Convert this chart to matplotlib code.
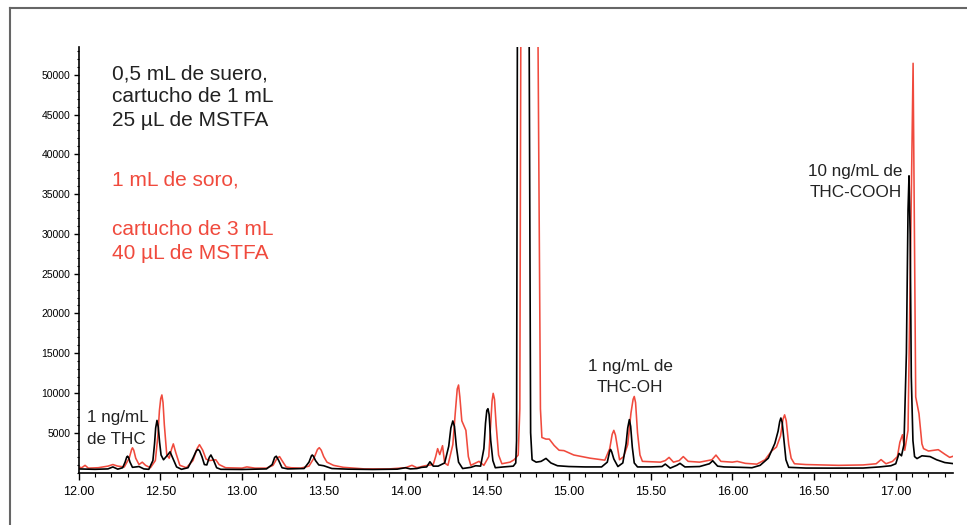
import matplotlib.pyplot as plt
from matplotlib.ticker import MultipleLocator, FixedLocator
from matplotlib.lines import Line2D

plt.rcParams['font.family'] = ['Liberation Sans', 'DejaVu Sans']

black_t = [12.00, 12.10, 12.18, 12.21, 12.24, 12.27, 12.285, 12.295, 12.30, 12.306, 12.315, 12.33,
           12.37, 12.40, 12.43, 12.455, 12.465, 12.472, 12.48, 12.488, 12.496, 12.505, 12.52, 12.545,
           12.56, 12.575, 12.60, 12.63, 12.67, 12.70, 12.72, 12.73, 12.74, 12.755, 12.77, 12.785,
           12.80, 12.81, 12.825, 12.845, 12.87, 13.00, 13.15, 13.185, 13.20, 13.21,
           13.225, 13.245, 13.28, 13.38, 13.41, 13.425, 13.43, 13.437, 13.45, 13.47, 13.50, 13.55,
           13.65, 13.80, 13.95, 14.00, 14.03, 14.07, 14.10, 14.13, 14.15, 14.17,
           14.20, 14.24, 14.265, 14.278, 14.29, 14.30, 14.312, 14.325, 14.35, 14.40, 14.43, 14.46,
           14.48, 14.49, 14.498, 14.505, 14.512, 14.522, 14.535, 14.55, 14.60, 14.66, 14.675, 14.680,
           14.685, 14.72, 14.757, 14.766, 14.775, 14.80, 14.83, 14.86, 14.89, 14.93,
           15.00, 15.10, 15.20, 15.235, 15.25, 15.255, 15.262, 15.275, 15.30, 15.33, 15.35, 15.36,
           15.37, 15.378, 15.388, 15.40, 15.42, 15.50, 15.57, 15.59, 15.62, 15.66, 15.68, 15.71,
           15.80, 15.86, 15.88, 15.91, 15.95, 16.05, 16.12, 16.17, 16.22, 16.26,
           16.28, 16.29, 16.297, 16.305, 16.315, 16.328, 16.345, 16.45, 16.60, 16.80, 16.90, 16.97,
           17.00, 17.02, 17.035, 17.05, 17.065, 17.075, 17.081, 17.088, 17.095, 17.105,
           17.115, 17.13, 17.16, 17.21, 17.25, 17.30, 17.35]
black_i = [450, 400, 450, 700, 420, 600, 1300, 1950, 2050, 1900, 1300, 650,
           750, 450, 400, 1500, 3600, 5600, 6550, 5700, 3800, 2200, 1600, 2200,
           2600, 1900, 700, 400, 600, 1800, 2700, 2900, 2750, 2000, 1000, 950,
           1900, 2200, 1600, 600, 400, 380, 450, 1000, 1900, 2050,
           1500, 600, 450, 500, 1300, 2100, 2200, 2050, 1500, 950, 850, 500,
           420, 380, 420, 600, 450, 500, 650, 700, 1350, 800,
           800, 1200, 3300, 5600, 6480, 5800, 3200, 1300, 500, 650, 850, 800,
           3000, 6200, 7800, 8020, 7300, 4000, 1500, 600, 700, 800, 1200, 4000,
           55000, 150000, 55000, 5000, 1600, 1300, 1400, 1770, 1200, 850,
           750, 700, 700, 1300, 2700, 2900, 2600, 1700, 750, 1200, 3600, 5600,
           6650, 5800, 3200, 1200, 700, 700, 750, 1060, 550, 900, 1150, 700,
           750, 1100, 1480, 800, 700, 650, 600, 900, 1800, 3650,
           5200, 6400, 6850, 6300, 4300, 1600, 650, 560, 550, 560, 700, 850,
           1100, 2400, 2100, 3500, 15000, 33000, 37300, 30000, 12000, 4000,
           2000, 1750, 2100, 2000, 1600, 1250, 1120]

# plasma / soro (rojo)
red_t = [12.00, 12.02, 12.04, 12.06, 12.12, 12.18, 12.21, 12.24, 12.28, 12.31,
         12.325, 12.33, 12.338, 12.35, 12.37, 12.39, 12.41, 12.44, 12.47, 12.485, 12.495, 12.503,
         12.51, 12.517, 12.525, 12.54, 12.555, 12.57, 12.58, 12.595, 12.62, 12.66, 12.70, 12.725,
         12.74, 12.76, 12.78, 12.80, 12.84, 12.86, 12.90, 13.00, 13.03, 13.08, 13.15,
         13.19, 13.215, 13.23, 13.245, 13.27, 13.30, 13.36, 13.41, 13.44, 13.462, 13.473,
         13.485, 13.50, 13.52, 13.56, 13.62, 13.75, 13.90, 14.00, 14.04, 14.07, 14.12,
         14.17, 14.185, 14.197, 14.21, 14.227, 14.24, 14.26, 14.29, 14.305, 14.317, 14.325,
         14.333, 14.345, 14.37, 14.385, 14.40, 14.45, 14.48, 14.51, 14.52, 14.53, 14.537, 14.545,
         14.555, 14.57, 14.59, 14.64, 14.665, 14.69, 14.700, 14.706, 14.76, 14.811, 14.826,
         14.835, 14.86, 14.88, 14.91, 14.94, 14.97, 15.03, 15.13, 15.22, 15.25,
         15.265, 15.275, 15.285, 15.31, 15.335, 15.36, 15.38, 15.393, 15.40, 15.408, 15.42, 15.435,
         15.45, 15.50, 15.56, 15.59, 15.613, 15.64, 15.675, 15.70, 15.73, 15.80, 15.875, 15.90,
         15.93, 16.00, 16.03, 16.08, 16.15, 16.20, 16.24, 16.27, 16.295, 16.31, 16.32,
         16.33, 16.345, 16.36, 16.38, 16.45, 16.55, 16.65, 16.80, 16.88, 16.91, 16.94,
         16.98, 17.01, 17.025, 17.041, 17.055, 17.075, 17.092, 17.106, 17.114, 17.122,
         17.142, 17.16, 17.17, 17.20, 17.26, 17.30, 17.33, 17.35]
red_i = [700, 600, 900, 550, 600, 800, 1000, 800, 700, 1800,
         2900, 3100, 2800, 1800, 1000, 1300, 900, 600, 1500, 4500, 7800, 9300,
         9750, 8800, 6000, 2200, 1800, 3000, 3600, 2500, 900, 600, 1500, 3000,
         3500, 2800, 1700, 1500, 1600, 1000, 600, 550, 700, 550, 550,
         900, 1800, 2000, 1500, 700, 600, 550, 800, 1800, 2900, 3120,
         2800, 2000, 1300, 900, 650, 450, 450, 600, 900, 600, 850,
         1000, 2000, 3000, 2250, 3370, 1200, 900, 3500, 7500, 10500, 11000,
         9500, 6500, 5300, 2000, 900, 1400, 900, 2000, 5500, 9000, 9950, 9200,
         6000, 2200, 1100, 1300, 1600, 2200, 8000, 55000, 150000, 55000, 8000,
         4400, 4200, 4200, 3400, 2800, 2750, 2200, 1800, 1550, 3000,
         4800, 5300, 4700, 1600, 2000, 3500, 7500, 9200, 9560, 8800, 5000, 2200,
         1400, 1350, 1300, 1500, 1900, 1300, 1500, 2000, 1400, 1300, 1600, 2190,
         1400, 1300, 1400, 1150, 1050, 1600, 2700, 3200, 4600, 6700, 7250,
         6500, 3500, 1800, 1100, 1000, 950, 900, 950, 1100, 1620, 1100,
         1400, 2000, 3800, 4750, 2800, 5300, 30000, 51450, 30000, 9500,
         7400, 3600, 3000, 2700, 2870, 2300, 1900, 2040]

ytick_vals = [5000, 10000, 15000, 20000, 25000, 30000, 35000, 40000, 45000, 50000]
xtick_vals = [12.0, 12.5, 13.0, 13.5, 14.0, 14.5, 15.0, 15.5, 16.0, 16.5, 17.0]

RED = '#f04a3d'
TXT = '#222222'

fig = plt.figure(figsize=(9.67, 5.25), dpi=100)
ax = fig.add_axes([0.0812, 0.1, 0.9043, 0.8105])

ax.plot(red_t, red_i, color=RED, lw=1.15, solid_joinstyle='round')
ax.plot(black_t, black_i, color='black', lw=1.2, solid_joinstyle='round')

ax.set_xlim(12.0, 17.35)
ax.set_ylim(0, 53500)

ax.spines['top'].set_visible(False)
ax.spines['right'].set_visible(False)
ax.spines['left'].set_linewidth(1.2)
ax.spines['bottom'].set_linewidth(1.2)

ax.yaxis.set_major_locator(FixedLocator(ytick_vals))
ax.yaxis.set_minor_locator(MultipleLocator(1000))
ax.xaxis.set_major_locator(FixedLocator(xtick_vals))
ax.xaxis.set_minor_locator(MultipleLocator(0.1))
ax.set_xticklabels([f'{v:.2f}' for v in xtick_vals])
ax.tick_params(axis='y', which='major', length=3.5, width=1, labelsize=7.5, pad=2.5)
ax.tick_params(axis='y', which='minor', length=1.8, width=0.8)
ax.tick_params(axis='x', which='major', length=5, width=1, labelsize=9, pad=5)
ax.tick_params(axis='x', which='minor', length=3, width=0.8)

# leyenda escrita a mano
ax.text(12.203, 49375, '0,5 mL de suero,', fontsize=15, color=TXT, va='baseline')
ax.text(12.203, 46540, 'cartucho de 1 mL', fontsize=15, color=TXT, va='baseline')
ax.text(12.203, 43540, '25 µL de MSTFA', fontsize=15, color=TXT, va='baseline')
ax.text(12.203, 36125, '1 mL de soro,', fontsize=15, color=RED, va='baseline')
ax.text(12.203, 29875, 'cartucho de 3 mL', fontsize=15, color=RED, va='baseline')
ax.text(12.203, 26875, '40 µL de MSTFA', fontsize=15, color=RED, va='baseline')

# etiquetas de picos
ax.text(12.05, 6325, '1 ng/mL', fontsize=12.3, color=TXT, va='baseline')
ax.text(12.05, 3625, 'de THC', fontsize=12.3, color=TXT, va='baseline')
ax.text(15.376, 12700, '1 ng/mL de', fontsize=12.3, color=TXT, va='baseline', ha='center')
ax.text(15.376, 10075, 'THC-OH', fontsize=12.3, color=TXT, va='baseline', ha='center')
ax.text(16.754, 37290, '10 ng/mL de', fontsize=12.3, color=TXT, va='baseline', ha='center')
ax.text(16.754, 34660, 'THC-COOH', fontsize=12.3, color=TXT, va='baseline', ha='center')

# marco gris
fig.add_artist(Line2D([0.0103, 0.0103], [0, 0.984], transform=fig.transFigure,
                      color='#666666', lw=1.5))
fig.add_artist(Line2D([0.0103, 1.0], [0.984, 0.984], transform=fig.transFigure,
                      color='#666666', lw=1.5))

plt.savefig('out.png', dpi=100)
